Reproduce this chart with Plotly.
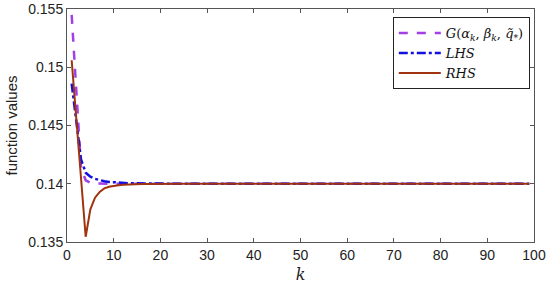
import plotly.graph_objects as go

# iteration index
k = list(range(1, 100))

# G(alpha_k, beta_k, q*) -- fast drop then flat at 0.14
g_vals = [0.1545, 0.1478, 0.1414, 0.1403, 0.14008, 0.14003, 0.14001] + [0.14] * 92

# left-hand side
lhs_vals = [0.1486, 0.1452, 0.1421, 0.14095, 0.1406, 0.14042, 0.14030, 0.14022,
            0.14016, 0.14012, 0.14009, 0.14007, 0.14005, 0.14004, 0.14003,
            0.14002, 0.14002, 0.14001, 0.14001, 0.14001] + [0.14] * 79

# right-hand side
rhs_vals = [0.1506, 0.1455, 0.1404, 0.13545, 0.1378, 0.1388, 0.1393, 0.1396,
            0.13974, 0.13982, 0.13988, 0.13991, 0.13994, 0.13996, 0.13997,
            0.13998, 0.13998, 0.13999, 0.13999, 0.13999] + [0.14] * 79

x_ticks = [0, 10, 20, 30, 40, 50, 60, 70, 80, 90, 100]
y_ticks = [0.135, 0.14, 0.145, 0.15, 0.155]
y_tick_text = ["0.135", "0.14", "0.145", "0.15", "0.155"]

fig = go.Figure()

fig.add_scatter(
  x=k, y=g_vals, mode="lines",
  name="<i>G</i>(<i>α<sub>k</sub></i>, <i>β<sub>k</sub></i>, <i>q̃<sub>*</sub></i>)",
  line=dict(color="#a040e6", width=2.5, dash="dash"),
)
fig.add_scatter(
  x=k, y=lhs_vals, mode="lines",
  name="<i>LHS</i>",
  line=dict(color="#1010e0", width=2.5, dash="dashdot"),
)
fig.add_scatter(
  x=k, y=rhs_vals, mode="lines",
  name="<i>RHS</i>",
  line=dict(color="#a0330f", width=2),
)

axis_common = dict(
  showline=True, linecolor="#555555", linewidth=1,
  mirror="ticks", ticks="inside", ticklen=4, tickcolor="#555555",
  showgrid=False, zeroline=False, ticklabeloverflow="allow", automargin=False,
  tickfont=dict(family="Liberation Sans, Arial", size=14, color="#222222"),
)

fig.update_layout(
  width=550, height=289,
  margin=dict(l=67, r=16, t=9, b=47),
  plot_bgcolor="white", paper_bgcolor="white",
  xaxis=dict(
    range=[0, 100], tickvals=x_ticks,
    title=dict(text="<i>k</i>", standoff=7,
               font=dict(family="DejaVu Serif", size=16, color="#222222")),
    **axis_common,
  ),
  yaxis=dict(
    range=[0.135, 0.155], tickvals=y_ticks, ticktext=y_tick_text,
    title=dict(text="function values", standoff=6,
               font=dict(family="Liberation Sans, Arial", size=15, color="#222222")),
    **axis_common,
  ),
  legend=dict(
    x=0.991, y=0.965, xanchor="right", yanchor="top",
    bgcolor="white", bordercolor="#222222", borderwidth=1,
    font=dict(family="DejaVu Serif", size=13, color="#111111"),
    tracegroupgap=0, itemwidth=42,
  ),
  showlegend=True,
)

# drop the default page margin so the 550x289 figure fills the window
fig.write_html(
  "out.html",
  config={"displayModeBar": False},
  post_script="document.body.style.margin = '0';",
)
